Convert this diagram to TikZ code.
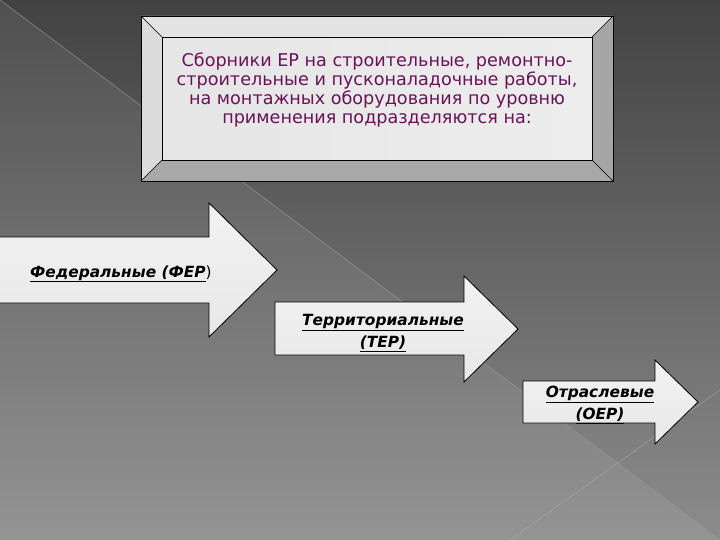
\documentclass[tikz,border=0pt]{standalone}
\usepackage{fontspec}
\setmainfont{DejaVu Sans}
\usetikzlibrary{positioning}
\definecolor{titlepurple}{HTML}{6A1258}
\tikzset{
  bevel/.style={draw=black, line width=0.6pt},
  slidearrow/.style={draw=black, line width=0.8pt, line join=miter, top color=gray!10, bottom color=gray!18},
  titletext/.style={font=\fontsize{17.6}{18.8}\selectfont, text=titlepurple, align=center},
  arrowtext/.style={font=\bfseries\itshape\fontsize{15.4}{22}\selectfont, text=black, align=center},
}
\begin{document}
\begin{tikzpicture}[x=1pt, y=-1pt, line join=round]
  \useasboundingbox (0,0) rectangle (720,540);
  % background
  \shade[top color=black!74, bottom color=black!45] (0,0) rectangle (720,540);
  \fill[white, opacity=0.07] (0,0) -- (720,540) -- (0,540) -- cycle;
  \draw[gray!80, opacity=0.6, line width=0.8pt] (0,0) -- (720,540);
  \draw[gray!60, opacity=0.5, line width=0.7pt] (510,540) -- (720,390);
  % bevelled box
  \coordinate (otl) at (141,16);  \coordinate (otr) at (613,16);
  \coordinate (obr) at (613,181); \coordinate (obl) at (141,181);
  \coordinate (itl) at (162,37);  \coordinate (itr) at (592,37);
  \coordinate (ibr) at (592,160); \coordinate (ibl) at (162,160);
  \fill[black!11] (otl) -- (otr) -- (itr) -- (itl) -- cycle;
  \fill[black!14] (otl) -- (itl) -- (ibl) -- (obl) -- cycle;
  \fill[black!35] (otr) -- (obr) -- (ibr) -- (itr) -- cycle;
  \fill[black!34] (obl) -- (ibl) -- (ibr) -- (obr) -- cycle;
  \shade[left color=black!10, right color=black!7] (itl) rectangle (ibr);
  \draw[bevel] (otl) rectangle (obr);
  \draw[bevel] (itl) rectangle (ibr);
  \draw[bevel] (otl) -- (itl) (otr) -- (itr) (obr) -- (ibr) (obl) -- (ibl);
  \node[titletext] (title) at (377,90) {Сборники ЕР на строительные, ремонтно-\\строительные и пусконаладочные работы,\\на монтажных оборудования по уровню\\применения подразделяются на:};
  % arrows
  \draw[slidearrow] (-1,237) -- (209,237) -- (209,203) -- (277,270) -- (209,337) -- (209,303) -- (-1,303) -- cycle;
  \draw[slidearrow] (275,302) -- (464,302) -- (464,276) -- (518,329) -- (464,382) -- (464,355) -- (275,355) -- cycle;
  \draw[slidearrow] (523,381) -- (655,381) -- (655,360) -- (698,402) -- (655,444) -- (655,423) -- (523,423) -- cycle;
  \node[arrowtext, anchor=base west, inner sep=0pt] (fer) at (30,277) {\underline{Федеральные (ФЕР}{\normalfont)}};
  \node[arrowtext] (ter) at (383,333) {\underline{Территориальные}\\\underline{(ТЕР)}};
  \node[arrowtext] (oer) at (600,405) {\underline{Отраслевые}\\\underline{(ОЕР)}};
\end{tikzpicture}
\end{document}
